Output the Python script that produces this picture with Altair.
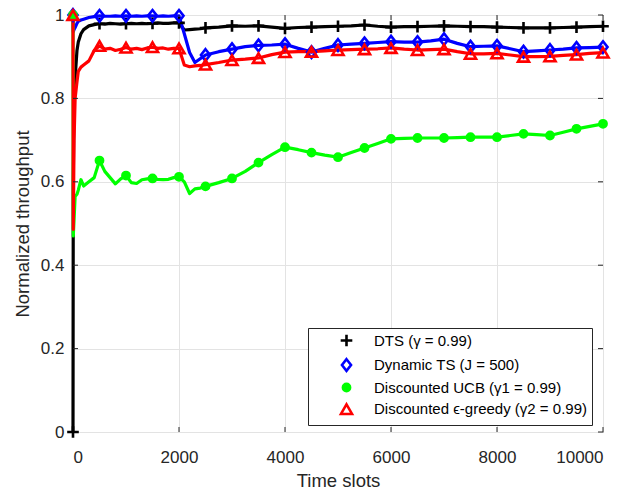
import altair as alt
import pandas as pd

# ---- data ----
T = [0, 5, 20, 40, 75, 100, 150, 200, 300, 400,
     500, 600, 700, 800, 900, 1000, 1100, 1200, 1300, 1400, 1500,
     1600, 1700, 1800, 1900, 2000, 2100, 2200, 2300, 2400, 2500,
     2750, 3000, 3250, 3500, 3750, 4000, 4250, 4500, 4750, 5000,
     5250, 5500, 5750, 6000, 6250, 6500, 6750, 7000, 7250, 7500,
     7750, 8000, 8250, 8500, 8750, 9000, 9250, 9500, 9750, 10000]

dts = [0.0, 0.6, 0.82, 0.85, 0.915, 0.935, 0.955, 0.965, 0.974, 0.977,
       0.979, 0.978, 0.98, 0.979, 0.978, 0.979, 0.98, 0.979, 0.98, 0.979, 0.98,
       0.981, 0.98, 0.98, 0.981, 0.981, 0.964, 0.965, 0.966, 0.967, 0.969,
       0.971, 0.974, 0.973, 0.974, 0.971, 0.968, 0.97, 0.971, 0.972, 0.973,
       0.974, 0.976, 0.973, 0.971, 0.972, 0.972, 0.973, 0.974, 0.973, 0.972,
       0.972, 0.971, 0.97, 0.969, 0.969, 0.969, 0.97, 0.971, 0.972, 0.973]

dyn_ts = [1.0, 0.96, 0.965, 0.97, 0.98, 0.985, 0.988, 0.99, 0.994, 0.996,
          0.998, 0.997, 0.997, 0.998, 0.997, 0.998, 0.997, 0.998, 0.997, 0.998, 0.998,
          0.997, 0.998, 0.997, 0.998, 0.998, 0.955, 0.91, 0.886, 0.895, 0.904,
          0.912, 0.918, 0.924, 0.927, 0.928, 0.93, 0.92, 0.911, 0.92, 0.928,
          0.93, 0.932, 0.934, 0.936, 0.935, 0.935, 0.938, 0.942, 0.932, 0.924,
          0.925, 0.926, 0.919, 0.912, 0.914, 0.916, 0.918, 0.921, 0.922, 0.923]

ucb = [1.0, 0.47, 0.51, 0.565, 0.57, 0.58, 0.605, 0.59, 0.6, 0.61,
       0.651, 0.625, 0.61, 0.595, 0.607, 0.615, 0.598, 0.596, 0.605, 0.607, 0.608,
       0.606, 0.605, 0.606, 0.61, 0.612, 0.6, 0.572, 0.583, 0.585, 0.589,
       0.598, 0.608, 0.625, 0.646, 0.665, 0.683, 0.677, 0.67, 0.664, 0.659,
       0.67, 0.681, 0.692, 0.703, 0.704, 0.705, 0.705, 0.705, 0.706, 0.707,
       0.707, 0.707, 0.711, 0.715, 0.713, 0.711, 0.719, 0.727, 0.733, 0.739]

eps = [1.0, 0.486, 0.7, 0.8, 0.84, 0.865, 0.875, 0.88, 0.89, 0.915,
       0.926, 0.918, 0.92, 0.915, 0.918, 0.922, 0.918, 0.92, 0.917, 0.921, 0.923,
       0.92, 0.921, 0.918, 0.92, 0.92, 0.88, 0.876, 0.878, 0.879, 0.881,
       0.886, 0.892, 0.894, 0.897, 0.905, 0.911, 0.912, 0.912, 0.914, 0.916,
       0.917, 0.918, 0.919, 0.921, 0.918, 0.916, 0.917, 0.918, 0.912, 0.907,
       0.907, 0.908, 0.904, 0.9, 0.9, 0.901, 0.903, 0.905, 0.908, 0.91]

series_names = ["DTS (γ = 0.99)", "Dynamic TS (J = 500)",
                "Discounted UCB (γ1 = 0.99)", "Discounted ϵ-greedy (γ2 = 0.99)"]
series_values = [dts, dyn_ts, ucb, eps]
series_colors = ["#000000", "#0000ff", "#00ff00", "#ff0000"]
series_fills = ["transparent", "transparent", "#00ff00", "transparent"]
series_shapes = [
    "M-1,0H1M0,-1V1",
    "M0,-1L0.78,0L0,1L-0.78,0Z",
    "M-0.62,0A0.62,0.62 0 1,0 0.62,0A0.62,0.62 0 1,0 -0.62,0Z",
    "M0,-0.8L0.95,0.85L-0.95,0.85Z",
]

x_ticks = [0, 2000, 4000, 6000, 8000, 10000]
y_ticks = [0, 0.2, 0.4, 0.6, 0.8, 1.0]

rows = []
for k, (name, vals) in enumerate(zip(series_names, series_values)):
    for t, v in zip(T, vals):
        rows.append({"t": t, "v": v, "series": name, "order": k})
df = pd.DataFrame(rows)

W, H = 530, 417
FONT = "Liberation Sans"
TXT = "#262626"

xscale = alt.Scale(domain=[0, 10000], nice=False, zero=False)
yscale = alt.Scale(domain=[0, 1], nice=False)

xaxis = alt.Axis(values=x_ticks, format="d", title="Time slots", grid=True)
yaxis = alt.Axis(values=y_ticks, format="~g", title="Normalized throughput", grid=True)

base = alt.Chart(df)

lines = base.mark_line(strokeWidth=3.2, strokeJoin="round").encode(
    x=alt.X("t:Q", scale=xscale, axis=xaxis),
    y=alt.Y("v:Q", scale=yscale, axis=yaxis),
    color=alt.Color("order:N", scale=alt.Scale(domain=[0, 1, 2, 3], range=series_colors), legend=None),
    order=alt.Order("t:Q"),
)

leg = alt.Legend(title=None, orient="none", legendX=235, legendY=313)
points = base.transform_filter("datum.t % 500 == 0").mark_point(
    size=135, strokeWidth=2.6, opacity=1
).encode(
    x=alt.X("t:Q", scale=xscale),
    y=alt.Y("v:Q", scale=yscale),
    stroke=alt.Stroke("series:N", scale=alt.Scale(domain=series_names, range=series_colors), legend=leg),
    fill=alt.Fill("series:N", scale=alt.Scale(domain=series_names, range=series_fills), legend=leg),
    shape=alt.Shape("series:N", scale=alt.Scale(domain=series_names, range=series_shapes), legend=leg),
    order=alt.Order("order:Q"),
)

xt = pd.DataFrame({"x": x_ticks})
yt = pd.DataFrame({"y": y_ticks})
tick_bottom = alt.Chart(xt).mark_rule(color=TXT, strokeWidth=1).encode(
    x=alt.X("x:Q", scale=xscale), y=alt.value(H), y2=alt.value(H - 5))
tick_top = alt.Chart(xt).mark_rule(color=TXT, strokeWidth=1).encode(
    x=alt.X("x:Q", scale=xscale), y=alt.value(0), y2=alt.value(5))
tick_left = alt.Chart(yt).mark_rule(color=TXT, strokeWidth=1).encode(
    y=alt.Y("y:Q", scale=yscale), x=alt.value(0), x2=alt.value(5))
tick_right = alt.Chart(yt).mark_rule(color=TXT, strokeWidth=1).encode(
    y=alt.Y("y:Q", scale=yscale), x=alt.value(W), x2=alt.value(W - 5))

chart = alt.layer(lines, tick_bottom, tick_top, tick_left, tick_right, points).properties(
    width=W, height=H,
    autosize=alt.AutoSizeParams(type="none"),
    padding={"left": 73, "top": 15, "right": 38, "bottom": 59},
).configure_view(
    stroke=TXT, strokeWidth=1
).configure_axis(
    domain=False, ticks=False, grid=True, gridColor="#e3e3e3", gridWidth=1,
    labelFont=FONT, labelFontSize=17, labelColor=TXT,
    titleFont=FONT, titleFontSize=18.5, titleColor=TXT, titleFontWeight="normal",
).configure_axisX(
    labelPadding=17, titlePadding=6,
).configure_axisY(
    labelPadding=9, titlePadding=8,
).configure_legend(
    strokeColor=TXT, fillColor="white", padding=5, cornerRadius=0,
    labelFont=FONT, labelFontSize=15, labelColor="#000000", labelLimit=400,
    symbolSize=135, symbolStrokeWidth=2.6, symbolOffset=26, labelOffset=20,
    rowPadding=1.5,
)

chart.save("out.html", embed_options={"renderer": "svg", "actions": False})
